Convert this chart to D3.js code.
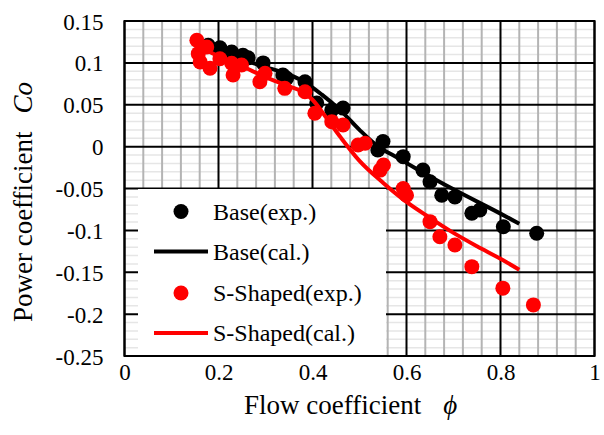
<!DOCTYPE html>
<html><head><meta charset="utf-8">
<script src="https://cdn.jsdelivr.net/npm/d3@7"></script>
<style>
html,body{margin:0;padding:0;background:#fff;}
svg text{font-family:"Times New Roman","Liberation Serif",Tinos,"DejaVu Serif",serif !important;fill:#000;}
</style></head>
<body><svg id="c" width="604" height="435"></svg>
<script>
// Data
const baseExpX = [0.178,0.203,0.228,0.252,0.263,0.295,0.337,0.345,0.384,0.409,0.441,0.465,0.539,0.550,0.593,0.635,0.650,0.675,0.703,0.739,0.756,0.806,0.877];
const baseExpY = [0.121,0.118,0.113,0.109,0.106,0.100,0.0855,0.0816,0.0775,0.052,0.0437,0.046,-0.004,0.006,-0.012,-0.028,-0.042,-0.058,-0.060,-0.0796,-0.0757,-0.0956,-0.1035];
const sExpX = [0.154,0.175,0.157,0.161,0.182,0.203,0.228,0.231,0.249,0.288,0.299,0.341,0.384,0.405,0.441,0.465,0.497,0.512,0.544,0.551,0.593,0.600,0.650,0.671,0.703,0.739,0.805,0.870];
const sExpY = [0.127,0.119,0.111,0.101,0.0935,0.105,0.0995,0.0855,0.0975,0.0775,0.0875,0.0696,0.0656,0.0398,0.0298,0.0258,0.002,0.004,-0.028,-0.022,-0.050,-0.058,-0.0896,-0.1076,-0.1175,-0.1433,-0.169,-0.189];
const baseCalX = [0.15,0.2,0.25,0.3,0.35,0.38,0.42,0.46,0.5,0.54,0.58,0.62,0.7,0.8,0.84];
const baseCalY = [0.121,0.113,0.104,0.095,0.086,0.078,0.062,0.043,0.020,0.000,-0.013,-0.026,-0.051,-0.080,-0.092];
const sCalX = [0.15,0.2,0.25,0.3,0.35,0.38,0.4,0.43,0.46,0.5,0.55,0.6,0.65,0.7,0.75,0.8,0.84];
const sCalY = [0.122,0.108,0.096,0.083,0.072,0.065,0.056,0.034,0.011,-0.017,-0.043,-0.066,-0.085,-0.103,-0.119,-0.134,-0.147];
const xTicks = [0,0.2,0.4,0.6,0.8,1];
const xTickLabels = ["0","0.2","0.4","0.6","0.8","1"];
const yTicks = [0.15,0.1,0.05,0,-0.05,-0.1,-0.15,-0.2,-0.25];
const yTickLabels = ["0.15","0.1","0.05","0","-0.05","-0.1","-0.15","-0.2","-0.25"];
const legendLabels = ["Base(exp.)","Base(cal.)","S-Shaped(exp.)","S-Shaped(cal.)"];

const svg = d3.select("#c");
const X0=124.5, X1=594.5, Y0=21, Y1=356;
const x = d3.scaleLinear().domain([0,1]).range([X0,X1]);
const y = d3.scaleLinear().domain([-0.25,0.15]).range([Y1,Y0]);

const g = svg.append("g");
const yMinor = d3.range(-25,16,1).map(v=>v/100).filter(v=>Math.round(v*1000)%50!==0);
g.selectAll(".ymin").data(yMinor).enter().append("line")
 .attr("x1",X0).attr("x2",X1).attr("y1",d=>y(d)).attr("y2",d=>y(d))
 .attr("stroke","#e6e6e6").attr("stroke-width",1.5);
const xMinor = d3.range(0,26,1).map(v=>v*0.04).filter((v,i)=>i%5!==0);
g.selectAll(".xmin").data(xMinor).enter().append("line")
 .attr("y1",Y0).attr("y2",Y1).attr("x1",d=>x(d)).attr("x2",d=>x(d))
 .attr("stroke","#b4b4b4").attr("stroke-width",2);
g.selectAll(".ymaj").data(yTicks).enter().append("line")
 .attr("x1",X0).attr("x2",X1).attr("y1",d=>y(d)).attr("y2",d=>y(d))
 .attr("stroke","#000").attr("stroke-width",2);
g.selectAll(".xmaj").data(xTicks).enter().append("line")
 .attr("y1",Y0).attr("y2",Y1).attr("x1",d=>x(d)).attr("x2",d=>x(d))
 .attr("stroke","#000").attr("stroke-width",2);
g.append("rect").attr("x",X0).attr("y",Y0).attr("width",X1-X0).attr("height",Y1-Y0)
 .attr("fill","none").attr("stroke","#000").attr("stroke-width",2);

const xAxis = svg.append("g").attr("transform",`translate(0,${Y1})`)
 .call(d3.axisBottom(x).tickValues(xTicks).tickFormat((d,i)=>xTickLabels[i]).tickSize(0).tickPadding(0));
xAxis.attr("font-family",null).attr("font-size",null);
xAxis.select(".domain").remove();
xAxis.selectAll("text").attr("y",24).attr("dy",0).style("font-size","23px");
const yAxis = svg.append("g").attr("transform",`translate(${X0},0)`)
 .call(d3.axisLeft(y).tickValues(yTicks).tickFormat((d,i)=>yTickLabels[i]).tickSize(0).tickPadding(0));
yAxis.attr("font-family",null).attr("font-size",null);
yAxis.select(".domain").remove();
yAxis.selectAll("text").attr("x",-21).attr("dy","0.35em").style("font-size","23px");

const line = d3.line().x(d=>x(d[0])).y(d=>y(d[1])).curve(d3.curveMonotoneX);
const plot = svg.append("g");
plot.selectAll(".be").data(d3.zip(baseExpX,baseExpY)).enter().append("circle")
 .attr("cx",d=>x(d[0])).attr("cy",d=>y(d[1])).attr("r",7.5).attr("fill","#000");
plot.append("path").datum(d3.zip(baseCalX,baseCalY)).attr("d",line)
 .attr("fill","none").attr("stroke","#000").attr("stroke-width",4);
plot.selectAll(".se").data(d3.zip(sExpX,sExpY)).enter().append("circle")
 .attr("cx",d=>x(d[0])).attr("cy",d=>y(d[1])).attr("r",7.5).attr("fill","#ff0000");
plot.append("path").datum(d3.zip(sCalX,sCalY)).attr("d",line)
 .attr("fill","none").attr("stroke","#ff0000").attr("stroke-width",4);

const lg = svg.append("g");
lg.append("rect").attr("x",138).attr("y",189).attr("width",248).attr("height",Y1-189-1).attr("fill","#fff");
const rows=[211.5,251.5,293,333];
const kinds=[["dot","#000"],["line","#000"],["dot","#ff0000"],["line","#ff0000"]];
legendLabels.forEach((t,i)=>{
  if(kinds[i][0]==="dot") lg.append("circle").attr("cx",181).attr("cy",rows[i]).attr("r",7.5).attr("fill",kinds[i][1]);
  else lg.append("line").attr("x1",154).attr("x2",208).attr("y1",rows[i]).attr("y2",rows[i]).attr("stroke",kinds[i][1]).attr("stroke-width",4);
  lg.append("text").attr("x",213).attr("y",rows[i]).attr("dy","0.35em").style("font-size","24px").text(t);
});

const xt = svg.append("text").attr("x",244).attr("y",414).style("font-size","27px");
xt.append("tspan").text("Flow coefficient");
xt.append("tspan").attr("dx",22).style("font-style","italic").text("ϕ");
const yt = svg.append("text").attr("transform","translate(32,202) rotate(-90)").attr("text-anchor","middle").style("font-size","27px");
yt.append("tspan").text("Power coefficient");
yt.append("tspan").attr("dx",18).style("font-style","italic").text("Co");
</script></body></html>
